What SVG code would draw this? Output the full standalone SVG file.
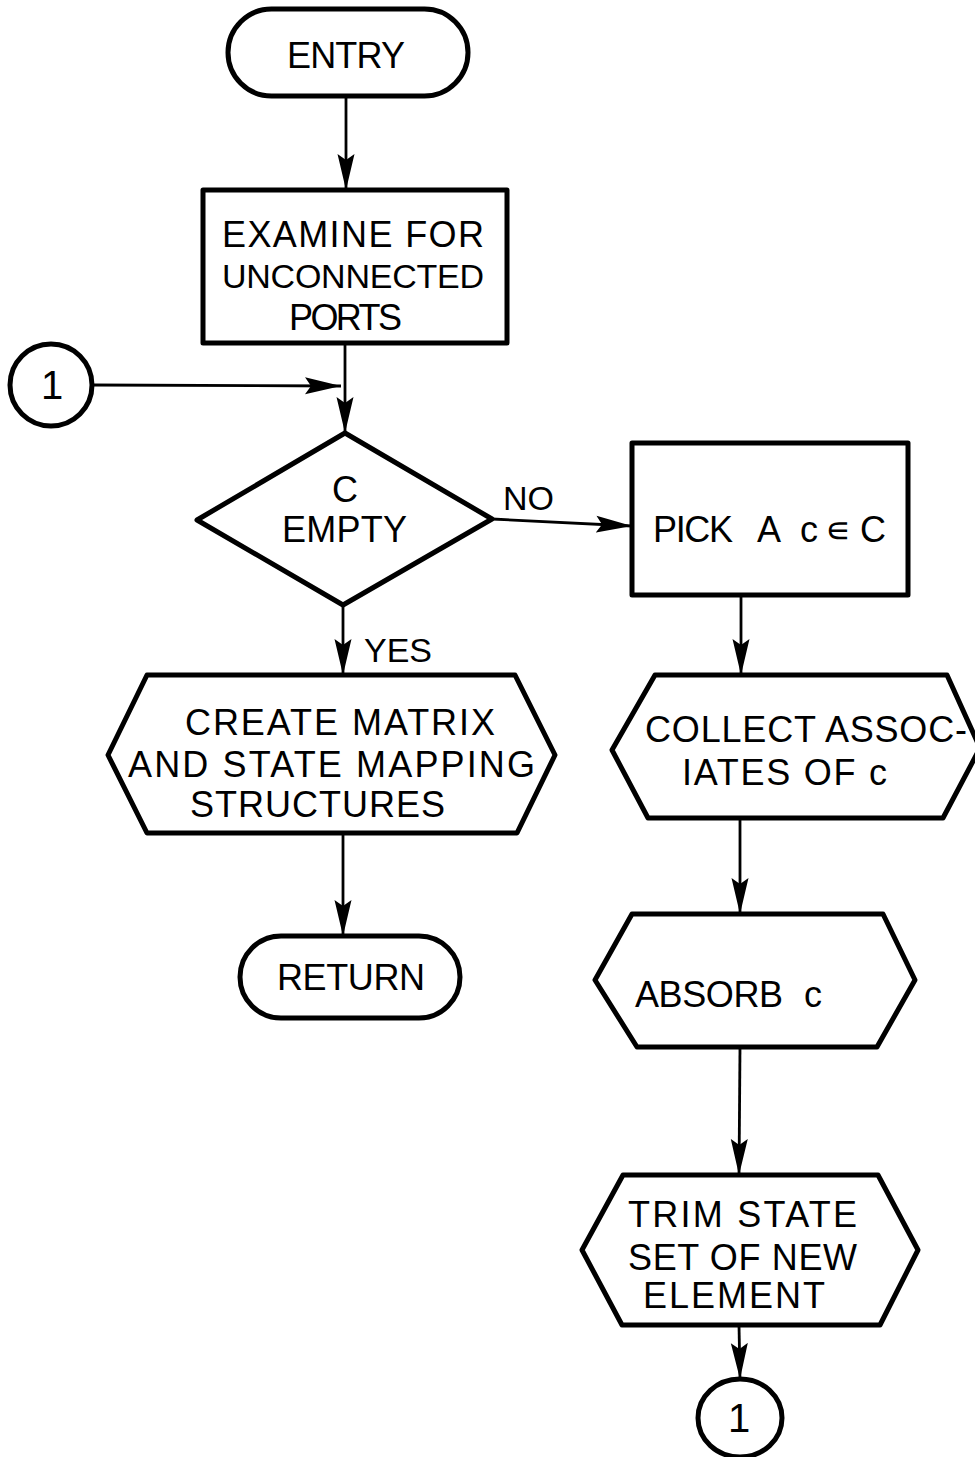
<svg xmlns="http://www.w3.org/2000/svg" width="975" height="1457" viewBox="0 0 975 1457">
<style>
.s{fill:#fff;stroke:#000;stroke-width:5;stroke-linejoin:round}
.c{fill:none;stroke:#000;stroke-width:2.8}
text{font-family:"Liberation Sans",Arial,sans-serif;font-size:36px;fill:#000}
.n{font-size:40px}
</style>
<defs>
<marker id="ah" markerUnits="userSpaceOnUse" markerWidth="38" markerHeight="18" refX="36" refY="9" orient="auto">
<path d="M0,0.5 L36,9 L0,17.5 L6,9 z" fill="#000"/>
</marker>
</defs>
<rect width="975" height="1457" fill="#fff"/>
<g id="connectors">
<line class="c" x1="346" y1="96" x2="346" y2="190" marker-end="url(#ah)"/>
<line class="c" x1="345" y1="343" x2="345" y2="433" marker-end="url(#ah)"/>
<line class="c" x1="92" y1="385" x2="341" y2="386" marker-end="url(#ah)"/>
<line class="c" x1="492" y1="519" x2="632" y2="526" marker-end="url(#ah)"/>
<line class="c" x1="343" y1="605" x2="343" y2="675" marker-end="url(#ah)"/>
<line class="c" x1="343" y1="833" x2="343" y2="936" marker-end="url(#ah)"/>
<line class="c" x1="741" y1="595" x2="741" y2="675" marker-end="url(#ah)"/>
<line class="c" x1="740" y1="818" x2="740" y2="914" marker-end="url(#ah)"/>
<line class="c" x1="740" y1="1047" x2="739" y2="1175" marker-end="url(#ah)"/>
<line class="c" x1="739" y1="1325" x2="740" y2="1379" marker-end="url(#ah)"/>
<text x="503" y="510" style="font-size:34px">NO</text>
<text x="364" y="662" style="font-size:34px">YES</text>
</g>
<g id="entry">
<rect class="s" x="228" y="9" width="240" height="87" rx="43.5"/>
<text x="287" y="68" textLength="118">ENTRY</text>
</g>
<g id="examine">
<rect class="s" x="203" y="190" width="304" height="153"/>
<text x="222" y="247" textLength="262">EXAMINE FOR</text>
<text x="222" y="288" textLength="262" style="font-size:34px">UNCONNECTED</text>
<text x="289" y="330" textLength="113">PORTS</text>
</g>
<g id="connector1-in">
<circle class="s" cx="51" cy="385" r="41"/>
<text class="n" x="52" y="399" text-anchor="middle">1</text>
</g>
<g id="decision">
<polygon class="s" points="345,433 492,519 343,605 197,520"/>
<text x="345" y="502" text-anchor="middle">C</text>
<text x="282" y="542" textLength="125">EMPTY</text>
</g>
<g id="pick">
<rect class="s" x="632" y="443" width="276" height="152"/>
<text y="542"><tspan x="653" textLength="80">PICK</tspan><tspan x="757">A</tspan><tspan x="800">c</tspan><tspan x="825">∊</tspan><tspan x="860">C</tspan></text>
</g>
<g id="create">
<polygon class="s" points="108,755 147,675 515,675 555,755 517,833 147,833"/>
<text x="185" y="735" textLength="310">CREATE MATRIX</text>
<text x="128" y="777" textLength="407">AND STATE MAPPING</text>
<text x="190" y="817" textLength="255">STRUCTURES</text>
</g>
<g id="return">
<rect class="s" x="240" y="936" width="220" height="82" rx="41"/>
<text x="277" y="990" textLength="148">RETURN</text>
</g>
<g id="collect">
<polygon class="s" points="612,750 655,675 947,675 980,748 943,818 648,818"/>
<text x="645" y="742" textLength="322">COLLECT ASSOC-</text>
<text x="682" y="785" textLength="205">IATES OF c</text>
</g>
<g id="absorb">
<polygon class="s" points="595,980 632,914 883,914 915,980 877,1047 637,1047"/>
<text x="635" y="1007" textLength="148">ABSORB</text>
<text x="804" y="1007">c</text>
</g>
<g id="trim">
<polygon class="s" points="582,1250 623,1175 878,1175 918,1250 880,1325 622,1325"/>
<text x="628" y="1227" textLength="229">TRIM STATE</text>
<text x="628" y="1270" textLength="229">SET OF NEW</text>
<text x="643" y="1308" textLength="182">ELEMENT</text>
</g>
<g id="connector1-out">
<ellipse class="s" cx="740" cy="1418" rx="42" ry="39"/>
<text class="n" x="739" y="1432" text-anchor="middle">1</text>
</g>
</svg>
